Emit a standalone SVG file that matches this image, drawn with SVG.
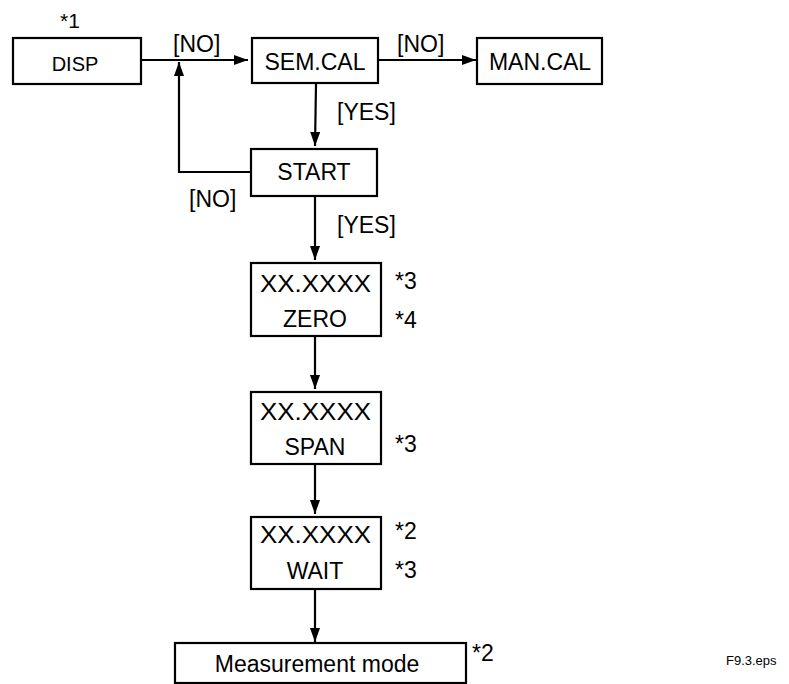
<svg xmlns="http://www.w3.org/2000/svg" width="789" height="684" viewBox="0 0 789 684">
<defs>
<marker id="ah" markerWidth="14" markerHeight="10" refX="14" refY="5" orient="auto" markerUnits="userSpaceOnUse">
<path d="M0,0 L14,5 L0,10 Z" fill="#000"/>
</marker>
<style>
.box{fill:#fff;stroke:#000;stroke-width:2.2}
.t{font-family:"Liberation Sans",Arial,sans-serif;font-size:23px;fill:#000}
.c{text-anchor:middle}
.ln{fill:none;stroke:#000;stroke-width:2.2}
</style>
</defs>
<rect width="789" height="684" fill="#fff"/>
<g id="connectors">
<path class="ln" d="M142,60 H248" marker-end="url(#ah)"/>
<path class="ln" d="M379,60 H476" marker-end="url(#ah)"/>
<path class="ln" d="M316,84 L315,146" marker-end="url(#ah)"/>
<path class="ln" d="M251,172 H179 V62" marker-end="url(#ah)"/>
<path class="ln" d="M315,197 V260" marker-end="url(#ah)"/>
<path class="ln" d="M315,337 V389" marker-end="url(#ah)"/>
<path class="ln" d="M315,465 V514" marker-end="url(#ah)"/>
<path class="ln" d="M315,590 V642" marker-end="url(#ah)"/>
<text class="t" x="173" y="52">[NO]</text>
<text class="t" x="397" y="52">[NO]</text>
<text class="t" x="337" y="120">[YES]</text>
<text class="t" x="189" y="207">[NO]</text>
<text class="t" x="337" y="233">[YES]</text>
</g>
<g id="disp">
<rect class="box" x="13" y="38" width="128" height="46"/>
<text class="t c" x="75" y="71" style="font-size:20px">DISP</text>
<text class="t" x="60" y="28" style="font-size:21px">*1</text>
</g>
<g id="semcal">
<rect class="box" x="252" y="38" width="126" height="45"/>
<text class="t c" x="315" y="70">SEM.CAL</text>
</g>
<g id="mancal">
<rect class="box" x="477" y="38" width="125" height="46"/>
<text class="t c" x="540" y="70">MAN.CAL</text>
</g>
<g id="start">
<rect class="box" x="251" y="149" width="126" height="47"/>
<text class="t c" x="314" y="180">START</text>
</g>
<g id="zero">
<rect class="box" x="251" y="263" width="130" height="73"/>
<text class="t" x="260" y="292" textLength="111" lengthAdjust="spacingAndGlyphs">XX.XXXX</text>
<text class="t c" x="315" y="327">ZERO</text>
<text class="t" x="395" y="289">*3</text>
<text class="t" x="395" y="328">*4</text>
</g>
<g id="span">
<rect class="box" x="251" y="392" width="130" height="72"/>
<text class="t" x="260" y="420" textLength="111" lengthAdjust="spacingAndGlyphs">XX.XXXX</text>
<text class="t c" x="315" y="455">SPAN</text>
<text class="t" x="395" y="452">*3</text>
</g>
<g id="wait">
<rect class="box" x="251" y="517" width="130" height="72"/>
<text class="t" x="260" y="543" textLength="111" lengthAdjust="spacingAndGlyphs">XX.XXXX</text>
<text class="t c" x="315" y="579">WAIT</text>
<text class="t" x="395" y="539">*2</text>
<text class="t" x="395" y="578">*3</text>
</g>
<g id="measurement">
<rect class="box" x="175" y="643" width="291" height="40"/>
<text class="t c" x="317" y="672">Measurement mode</text>
<text class="t" x="472" y="661">*2</text>
</g>
<text class="t" x="726" y="665" style="font-size:13px">F9.3.eps</text>
</svg>
